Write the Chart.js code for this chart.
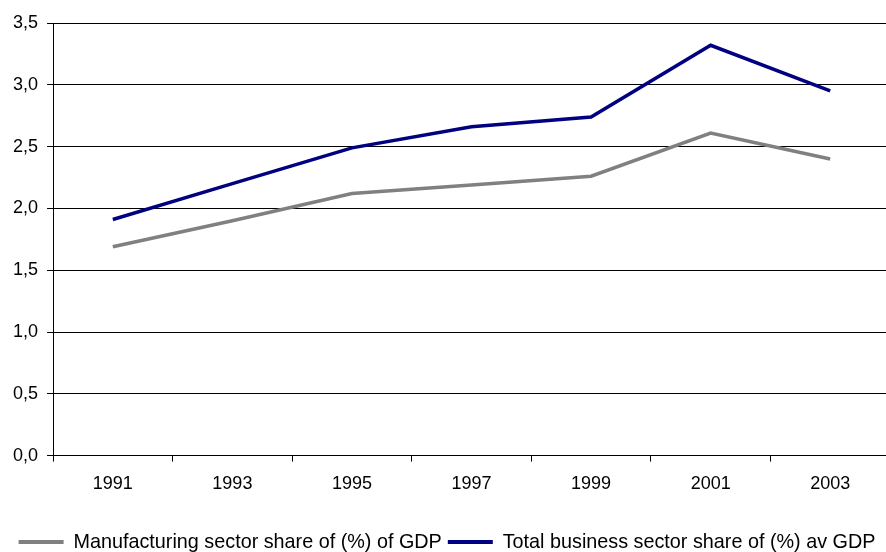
<!DOCTYPE html>
<html>
<head>
<meta charset="utf-8">
<script src="https://cdn.jsdelivr.net/npm/chart.js@4/dist/chart.umd.min.js"></script>
<style>
  html, body { margin: 0; padding: 0; background: #fff; overflow: hidden; }
  #wrap { position: relative; width: 890px; height: 552px; }
</style>
</head>
<body>
<div id="wrap"><canvas id="c"></canvas></div>
<script>
const years = ['1991', '1993', '1995', '1997', '1999', '2001', '2003'];
const manufacturing = [1.69, 1.90, 2.12, 2.19, 2.26, 2.61, 2.40];
const totalBusiness = [1.91, 2.20, 2.49, 2.66, 2.74, 3.32, 2.95];
const seriesNames = ['Manufacturing sector share of (%) of GDP', 'Total business sector share of (%) av GDP'];
const yMin = 0, yMax = 3.5, yStep = 0.5;

new Chart(document.getElementById('c'), {
  type: 'line',
  data: {
    labels: years,
    datasets: [
      { label: seriesNames[0], data: manufacturing, borderColor: '#808080', backgroundColor: '#808080', borderWidth: 3.5, pointRadius: 0, tension: 0, order: 2 },
      { label: seriesNames[1], data: totalBusiness, borderColor: '#000080', backgroundColor: '#000080', borderWidth: 3.5, pointRadius: 0, tension: 0, order: 1 }
    ]
  },
  options: {
    responsive: true,
    maintainAspectRatio: false,
    animation: false,
    layout: { padding: { left: 4, top: 23, right: 0, bottom: -10 } },
    plugins: {
      tooltip: { enabled: false },
      legend: {
        position: 'bottom',
        labels: {
          color: '#000',
          font: { family: 'Liberation Sans, Arial, sans-serif', size: 19.8 },
          boxWidth: 45,
          boxHeight: 4,
          padding: 6,
          generateLabels: chart => chart.data.datasets.map((ds, i) => ({
            text: ds.label, fillStyle: ds.borderColor, strokeStyle: ds.borderColor,
            lineWidth: 0, hidden: false, datasetIndex: i, fontColor: '#000'
          }))
        }
      }
    },
    scales: {
      x: {
        offset: true,
        grid: { offset: true, drawOnChartArea: false, color: '#000', tickLength: 6 },
        border: { color: '#000', width: 1 },
        ticks: { color: '#000', font: { family: 'Liberation Sans, Arial, sans-serif', size: 18 }, padding: 12, maxRotation: 0 },
        afterFit: scale => { scale.height += 19; }
      },
      y: {
        min: yMin, max: yMax,
        grid: { color: '#000', tickLength: 6 },
        border: { color: '#000', width: 1 },
        ticks: {
          stepSize: yStep, color: '#000', padding: 9,
          font: { family: 'Liberation Sans, Arial, sans-serif', size: 18 },
          callback: v => Number(v).toFixed(1).replace('.', ',')
        }
      }
    }
  }
});
</script>
</body>
</html>
